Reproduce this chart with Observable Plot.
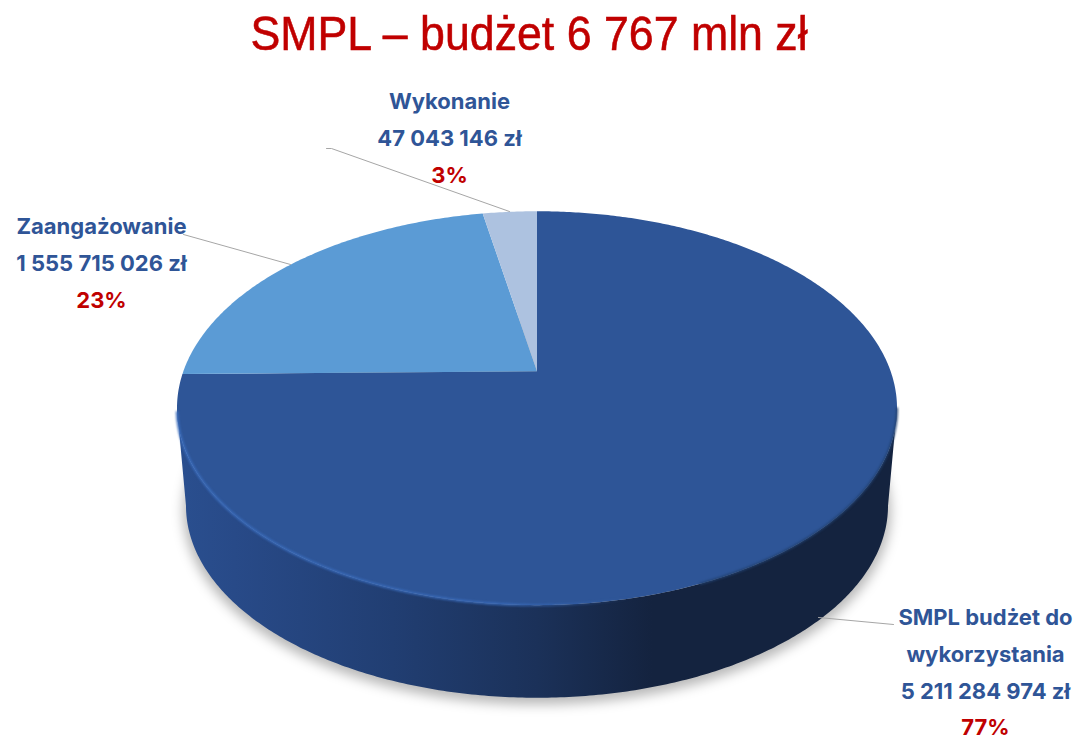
<!DOCTYPE html>
<html lang="pl">
<head>
<meta charset="utf-8">
<script src="https://cdn.jsdelivr.net/npm/d3@7"></script>
<script src="https://cdn.jsdelivr.net/npm/@observablehq/plot@0.6"></script>
<style>
html,body{margin:0;padding:0;background:#fff}
#title{height:70px;text-align:center;color:#c00000;font:44.7px/68px "Liberation Sans",sans-serif;position:relative;left:-9.5px;white-space:nowrap;-webkit-text-stroke:0.5px #c00000;transform:scaleY(1.07);transform-origin:50% 36px}
svg{display:block}
</style>
</head>
<body>
<div id="title">SMPL – budżet 6 767 mln zł</div>
<div id="chart"></div>
<script>
// Data
const categories = ["SMPL budżet do wykorzystania", "Zaangażowanie", "Wykonanie"];
const amounts = ["5 211 284 974 zł", "1 555 715 026 zł", "47 043 146 zł"];
const percents = [77, 23, 3];
const sliceColors = ["#2e5597", "#5b9bd5", "#adc2e0"];

// Styling / layout of the annotation
const labelLines = [["SMPL budżet do", "wykorzystania"], ["Zaangażowanie"], ["Wykonanie"]];
const labelX = [985, 101, 449];
const labelY = [617.5, 226.5, 101.5];
const lineGap = 36.8;
const leaders = [
  [[818, 617], [893, 624]],
  [[183, 234], [290, 264]],
  [[326, 148], [331, 148], [509, 211]]
];

// Perspective disc geometry
const apex = {x: 536.5, y: 370.7};
const R = 353.6, Q = 190, P = 0.1878;
const proj = (a, k = 1, dy = 0) => {
  const d = 1 + P * Math.cos(a);
  return {x: apex.x + k * R * Math.sin(a) / d, y: apex.y - k * Q * Math.cos(a) / d + dy};
};
const arc = (a0, a1, opt = {}) => {
  const n = Math.max(2, Math.ceil(Math.abs(a1 - a0) / 0.01));
  return d3.range(n + 1).map(i => proj(a0 + (a1 - a0) * i / n, opt.k ?? 1, opt.dy ?? 0));
};
const total = d3.sum(percents);
let acc = 0;
const slices = percents.map((p, i) => {
  const a0 = acc / total * 2 * Math.PI;
  acc += p;
  const a1 = acc / total * 2 * Math.PI;
  return {i, a0, a1, pts: [{x: apex.x, y: apex.y}, ...arc(a0, a1)]};
});

// Widest points of the top rim, in angle
const aw = Math.acos(-P);
const bottomScale = 0.975, bottomDy = 98.5;
const wall = [...arc(aw, 2 * Math.PI - aw), ...arc(2 * Math.PI - aw, aw, {k: bottomScale, dy: bottomDy})];
const shadow = arc(0, 2 * Math.PI, {k: bottomScale * 1.008, dy: bottomDy + 5});

const defs = () => {
  const svg = d3.create("svg:defs");
  const g = svg.append("linearGradient").attr("id", "wallGrad");
  [[0, "#2a4f8f"], [0.08, "#284a88"], [0.3, "#213e72"], [0.5, "#1b3159"], [0.66, "#14233f"], [1, "#14233f"]]
    .forEach(([o, c]) => g.append("stop").attr("offset", o).attr("stop-color", c));
  const b = svg.append("linearGradient").attr("id", "rimGrad");
  [[0, "#3a6cbc", 1], [0.5, "#3a6cbc", 0.9], [0.7, "#3a6cbc", 0], [1, "#3a6cbc", 0]]
    .forEach(([o, c, a]) => b.append("stop").attr("offset", o).attr("stop-color", c).attr("stop-opacity", a));
  return svg.node();
};

const texts = [];
labelLines.forEach((lines, i) => {
  const rows = [...lines, amounts[i]];
  rows.forEach((t, j) => texts.push({t, x: labelX[i], y: labelY[i] + j * lineGap, c: "#2f5597"}));
  texts.push({t: percents[i] + "%", x: labelX[i], y: labelY[i] + rows.length * lineGap, c: "#c00000"});
});

const font = {fontFamily: "Inter, sans-serif", fontWeight: 700, fontSize: 22};

const plot = Plot.plot({
  width: 1077, height: 669, margin: 0,
  x: {domain: [0, 1077], range: [0, 1077], axis: null},
  y: {domain: [70, 739], range: [0, 669], axis: null},
  marks: [
    defs,
    Plot.line(shadow, {x: "x", y: "y", fill: "#000", fillOpacity: 0.28, stroke: "none", imageFilter: "blur(6px)"}),
    Plot.line(wall, {x: "x", y: "y", fill: "url(#wallGrad)", stroke: "none"}),
    ...slices.map(s => Plot.line(s.pts, {x: "x", y: "y", fill: sliceColors[s.i], stroke: "none"})),
    Plot.line(arc(aw, 2.75), {x: "x", y: "y", stroke: "#21406f", strokeWidth: 2, imageFilter: "blur(0.8px)"}),
    Plot.line(arc(aw + 0.6, 2 * Math.PI - aw - 0.02), {x: "x", y: "y", stroke: "url(#rimGrad)", strokeWidth: 2.4, imageFilter: "blur(0.8px)"}),
    ...leaders.map(l => Plot.line(l.map(([x, y]) => ({x, y})), {x: "x", y: "y", stroke: "#a6a6a6", strokeWidth: 1})),
    Plot.text(texts, {x: "x", y: "y", text: "t", fill: "c", ...font})
  ]
});
document.getElementById("chart").append(plot);
</script>
</body>
</html>
